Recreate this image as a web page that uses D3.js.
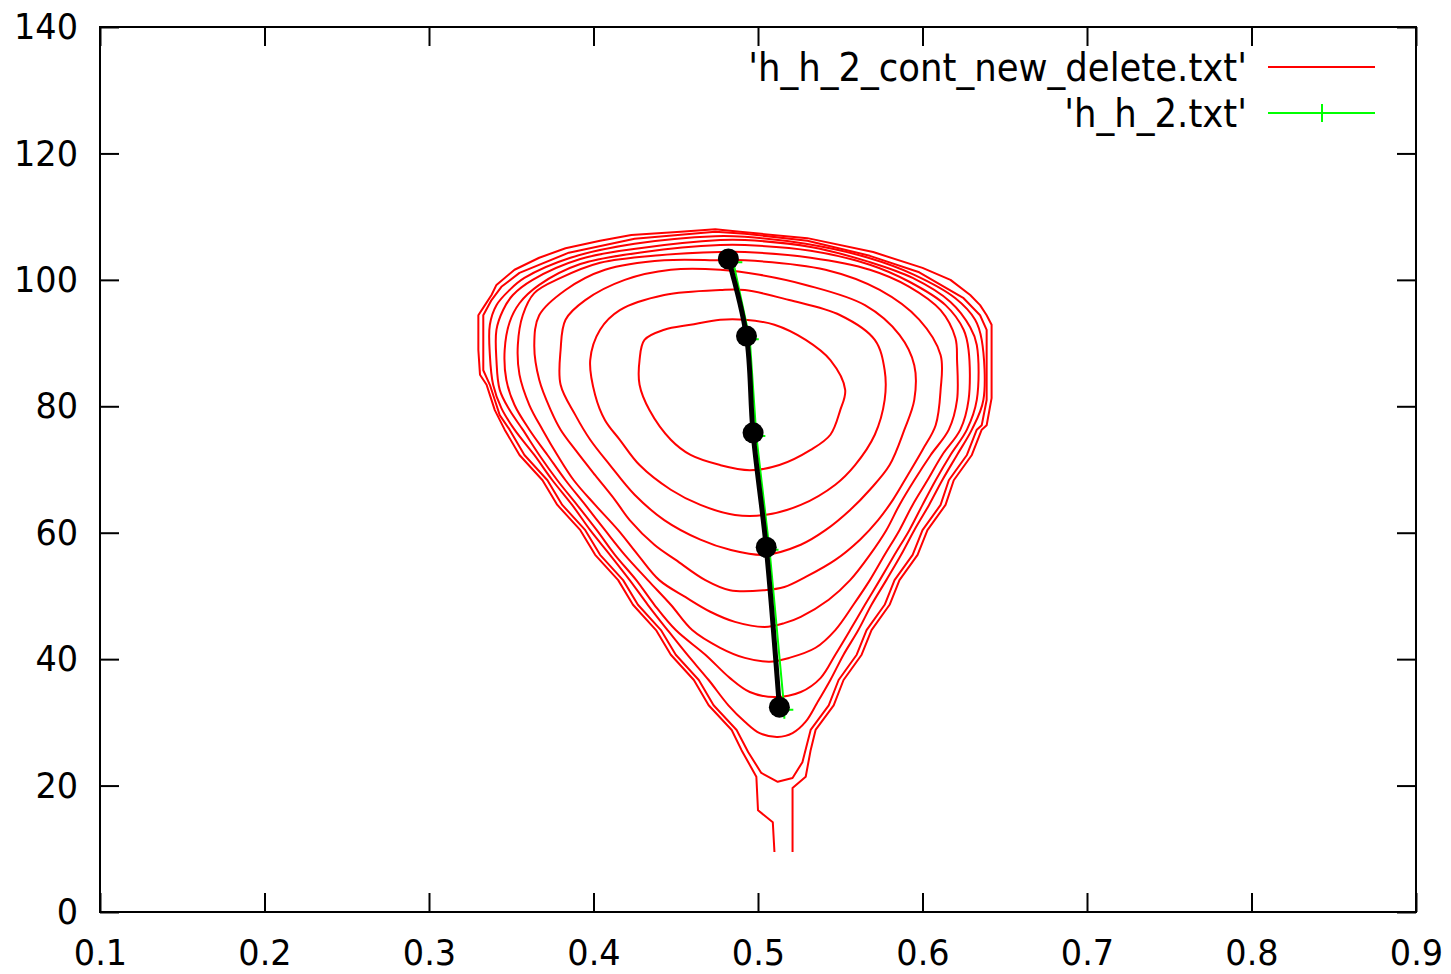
<!DOCTYPE html>
<html>
<head>
<meta charset="utf-8">
<script src="https://cdn.jsdelivr.net/npm/d3@7"></script>
<style>
body { margin: 0; background: #fff; }
text { font-family: "DejaVu Sans", sans-serif; fill: #000; }
</style>
</head>
<body>
<div class="chart"></div>
<script>
// tick values
var xTicks = [0.1, 0.2, 0.3, 0.4, 0.5, 0.6, 0.7, 0.8, 0.9];
var yTicks = [0, 20, 40, 60, 80, 100, 120, 140];
var legendNames = ["'h_h_2_cont_new_delete.txt'", "'h_h_2.txt'"];

// contour lines, innermost first
var contour1 = [[0.495,69.9],[0.477,70.7],[0.459,72.3],[0.447,74.7],[0.434,79.4],[0.428,83.4],[0.428,87.3],[0.431,90.5],[0.443,92.1],[0.459,92.9],[0.477,93.7],[0.492,93.7],[0.510,92.9],[0.529,90.5],[0.544,87.3],[0.553,82.6],[0.550,79.4],[0.544,75.5],[0.532,73.1],[0.513,70.7]];
var contour2 = [[0.504,62.8],[0.486,62.8],[0.465,64.4],[0.447,66.8],[0.428,70.7],[0.416,74.7],[0.407,77.8],[0.401,81.8],[0.398,87.3],[0.404,92.1],[0.416,95.2],[0.443,97.6],[0.477,98.4],[0.492,98.4],[0.519,96.8],[0.550,94.4],[0.571,90.5],[0.577,85.7],[0.577,81.0],[0.571,75.5],[0.559,70.7],[0.547,67.6],[0.526,64.4]];
var contour3 = [[0.504,56.5],[0.483,57.3],[0.465,58.9],[0.443,62.0],[0.425,66.0],[0.410,70.7],[0.398,74.7],[0.389,78.6],[0.380,83.4],[0.380,88.9],[0.383,93.7],[0.395,96.8],[0.419,100.0],[0.447,101.6],[0.477,101.6],[0.501,100.8],[0.529,99.2],[0.565,96.0],[0.586,91.3],[0.595,86.5],[0.595,81.0],[0.589,76.3],[0.580,70.7],[0.568,66.8],[0.556,63.6],[0.541,60.4],[0.526,58.1]];
var contour4 = [[0.504,50.9],[0.483,50.9],[0.468,52.5],[0.450,55.7],[0.437,58.1],[0.422,62.0],[0.413,65.2],[0.401,69.1],[0.389,73.1],[0.380,76.3],[0.374,79.4],[0.367,84.2],[0.364,89.7],[0.367,94.4],[0.383,98.4],[0.407,101.6],[0.443,103.1],[0.477,103.1],[0.492,103.1],[0.541,101.6],[0.574,98.4],[0.598,93.7],[0.611,88.1],[0.611,82.6],[0.608,77.0],[0.600,73.1],[0.591,69.1],[0.582,65.2],[0.573,62.0],[0.562,58.9],[0.547,55.7],[0.529,53.0],[0.516,51.4]];
var contour5 = [[0.504,45.1],[0.486,45.9],[0.471,47.5],[0.456,49.8],[0.440,52.5],[0.427,56.5],[0.415,60.4],[0.401,64.4],[0.388,68.3],[0.378,72.3],[0.369,76.3],[0.361,80.2],[0.355,85.0],[0.354,89.7],[0.357,94.4],[0.364,97.9],[0.380,100.3],[0.404,102.7],[0.440,103.9],[0.477,104.4],[0.492,104.4],[0.532,103.5],[0.568,101.6],[0.592,98.9],[0.611,95.2],[0.620,90.8],[0.621,87.3],[0.621,81.0],[0.616,76.3],[0.605,72.3],[0.595,68.3],[0.586,64.4],[0.578,60.4],[0.568,56.5],[0.556,52.5],[0.543,49.4],[0.526,46.7],[0.516,45.7]];
var contour6 = [[0.507,39.6],[0.492,40.2],[0.477,41.8],[0.460,44.6],[0.447,48.6],[0.433,52.5],[0.419,56.5],[0.407,60.4],[0.395,64.4],[0.383,68.3],[0.372,72.3],[0.361,76.3],[0.352,80.2],[0.347,84.2],[0.346,88.9],[0.349,93.3],[0.355,96.3],[0.367,99.2],[0.392,102.5],[0.431,104.4],[0.477,105.5],[0.492,105.5],[0.532,104.6],[0.568,102.4],[0.592,99.7],[0.614,96.0],[0.625,92.1],[0.628,88.9],[0.628,81.0],[0.623,76.3],[0.612,72.3],[0.603,68.3],[0.594,64.4],[0.586,60.4],[0.577,56.5],[0.568,52.5],[0.558,48.6],[0.547,44.6],[0.535,41.8],[0.519,40.2]];
var contour7 = [[0.510,34.0],[0.495,34.8],[0.483,37.0],[0.468,40.7],[0.450,44.6],[0.437,48.6],[0.426,52.5],[0.413,56.5],[0.402,60.4],[0.390,64.4],[0.378,68.3],[0.367,72.3],[0.357,76.3],[0.349,79.4],[0.343,82.6],[0.341,87.3],[0.341,92.1],[0.345,95.2],[0.351,97.6],[0.363,100.0],[0.392,103.3],[0.428,105.0],[0.477,106.3],[0.492,106.3],[0.532,105.2],[0.568,102.8],[0.594,100.3],[0.617,96.5],[0.629,92.5],[0.633,89.7],[0.633,81.0],[0.627,76.3],[0.617,72.3],[0.608,68.3],[0.600,64.4],[0.592,60.4],[0.583,56.5],[0.574,52.5],[0.565,48.6],[0.556,44.6],[0.547,40.7],[0.538,37.0],[0.526,34.8]];
var contour8 = [[0.512,27.7],[0.501,28.3],[0.492,30.1],[0.482,32.7],[0.470,36.7],[0.457,40.7],[0.445,44.6],[0.433,48.6],[0.422,52.5],[0.410,56.5],[0.398,60.4],[0.387,64.4],[0.375,68.3],[0.364,72.3],[0.352,76.3],[0.344,79.7],[0.339,83.4],[0.337,88.1],[0.337,92.9],[0.341,96.0],[0.349,98.4],[0.358,100.3],[0.386,103.5],[0.425,105.7],[0.474,106.9],[0.492,106.8],[0.529,105.7],[0.567,103.5],[0.595,100.8],[0.620,97.1],[0.632,93.7],[0.636,90.5],[0.637,81.0],[0.630,76.3],[0.621,72.3],[0.612,68.3],[0.604,64.4],[0.595,60.4],[0.587,56.5],[0.578,52.5],[0.569,48.6],[0.561,44.6],[0.552,40.7],[0.544,36.7],[0.536,33.1],[0.529,30.1],[0.521,28.3]];
var contour9 = [[0.512,20.6],[0.502,22.0],[0.494,25.3],[0.487,28.8],[0.473,32.7],[0.464,36.7],[0.450,40.7],[0.441,44.6],[0.427,48.6],[0.418,52.5],[0.404,56.5],[0.395,60.4],[0.381,64.4],[0.372,68.3],[0.358,72.3],[0.349,76.3],[0.343,78.6],[0.340,81.0],[0.337,83.4],[0.333,85.7],[0.333,88.9],[0.333,94.4],[0.338,96.8],[0.344,98.9],[0.355,101.1],[0.385,104.3],[0.425,106.5],[0.474,107.6],[0.492,107.3],[0.530,106.2],[0.568,103.8],[0.598,101.2],[0.625,97.1],[0.635,94.4],[0.639,92.1],[0.639,87.3],[0.639,81.0],[0.636,77.0],[0.633,76.3],[0.627,72.3],[0.616,68.3],[0.611,64.4],[0.600,60.4],[0.594,56.5],[0.583,52.5],[0.577,48.6],[0.566,44.6],[0.560,40.7],[0.549,36.7],[0.543,32.7],[0.532,28.8],[0.527,23.7],[0.521,21.2]];
// outermost level is open, it runs off the bottom of the data
var contour10 = [[0.510,9.5],[0.509,14.2],[0.500,16.1],[0.499,21.4],[0.490,25.6],[0.484,28.8],[0.470,32.7],[0.461,36.7],[0.447,40.7],[0.438,44.6],[0.424,48.6],[0.415,52.5],[0.401,56.5],[0.392,60.4],[0.378,64.4],[0.369,68.3],[0.355,72.3],[0.346,76.3],[0.340,79.4],[0.337,81.8],[0.335,83.4],[0.331,85.0],[0.330,88.9],[0.330,94.4],[0.334,96.0],[0.338,97.6],[0.341,99.2],[0.352,101.6],[0.367,103.5],[0.383,105.0],[0.404,106.2],[0.423,107.1],[0.453,107.6],[0.474,108.0],[0.489,107.6],[0.530,106.6],[0.570,104.4],[0.600,101.9],[0.617,100.0],[0.629,97.6],[0.635,96.0],[0.639,94.4],[0.642,92.9],[0.642,87.3],[0.642,81.3],[0.639,77.0],[0.636,76.3],[0.630,72.3],[0.619,68.3],[0.614,64.4],[0.603,60.4],[0.597,56.5],[0.586,52.5],[0.580,48.6],[0.569,44.6],[0.563,40.7],[0.552,36.7],[0.546,32.7],[0.535,28.8],[0.532,25.6],[0.529,21.4],[0.521,19.6],[0.521,9.5]];

var smoothContours = [contour1, contour2, contour3, contour4, contour5, contour6, contour7, contour8];

// 'h_h_2.txt' (green) and the black fitted path
var greenX = [0.485, 0.495, 0.499, 0.507, 0.516];
var greenY = [102.8, 90.6, 75.3, 57.3, 32.0];
var pathX = [0.482, 0.493, 0.497, 0.505, 0.513];
var pathY = [103.3, 91.1, 75.8, 57.7, 32.4];

var svgWidth = 1451;
var svgHeight = 974;
var margin = {top: 27, right: 35, bottom: 62, left: 100};
var chartWidth = svgWidth - margin.left - margin.right;
var chartHeight = svgHeight - margin.top - margin.bottom;

// text in the reference is a little taller than wide
var textStretch = 1.08;

var svg = d3.select(".chart")
  .append("svg")
  .attr("width", svgWidth)
  .attr("height", svgHeight);

var chart = svg.append("g")
  .attr("transform", `translate(${margin.left},${margin.top})`);

var xScale = d3.scaleLinear().domain([0.1, 0.9]).range([0, chartWidth]);
var yScale = d3.scaleLinear().domain([0, 140]).range([chartHeight, 0]);

// axes, ticks point inwards on all four sides
var tickLen = 19;
var bottomAxis = d3.axisBottom(xScale).tickValues(xTicks).tickSize(-tickLen).tickPadding(27).tickFormat(d3.format(".1f"));
var leftAxis = d3.axisLeft(yScale).tickValues(yTicks).tickSize(-tickLen).tickPadding(22).tickFormat(d3.format("d"));
var topAxis = d3.axisTop(xScale).tickValues(xTicks).tickSize(-tickLen).tickFormat("");
var rightAxis = d3.axisRight(yScale).tickValues(yTicks).tickSize(-tickLen).tickFormat("");

function styleAxis(g) {
  g.select(".domain").remove();
  g.selectAll(".tick line").attr("stroke", "#000").attr("stroke-width", 2);
  g.selectAll(".tick text")
    .style("font-size", "33.5px")
    .attr("fill", "#000")
    .each(function() {
      var t = d3.select(this);
      var tx = +t.attr("x") || 0;
      var ty = +t.attr("y") || 0;
      t.attr("x", 0).attr("y", 0)
        .attr("transform", `translate(${tx},${ty}) scale(1,${textStretch})`);
    });
}

chart.append("g").attr("transform", `translate(0,${chartHeight})`).call(bottomAxis).call(styleAxis);
chart.append("g").call(leftAxis).call(styleAxis);
chart.append("g").call(topAxis).call(styleAxis);
chart.append("g").attr("transform", `translate(${chartWidth},0)`).call(rightAxis).call(styleAxis);

chart.append("rect")
  .attr("x", 0).attr("y", 0)
  .attr("width", chartWidth).attr("height", chartHeight)
  .attr("fill", "none")
  .attr("stroke", "#000")
  .attr("stroke-width", 2);

// contours
var smoothLine = d3.line()
  .x(function(d) { return xScale(d[0]); })
  .y(function(d) { return yScale(d[1]); })
  .curve(d3.curveCatmullRomClosed);

var jaggedClosed = d3.line()
  .x(function(d) { return xScale(d[0]); })
  .y(function(d) { return yScale(d[1]); })
  .curve(d3.curveLinearClosed);

var openLine = d3.line()
  .x(function(d) { return xScale(d[0]); })
  .y(function(d) { return yScale(d[1]); });

chart.selectAll(".contour")
  .data(smoothContours)
  .enter()
  .append("path")
  .attr("class", "contour")
  .attr("d", smoothLine)
  .attr("fill", "none")
  .attr("stroke", "#ff0000")
  .attr("stroke-width", 2);

chart.append("path")
  .attr("d", jaggedClosed(contour9))
  .attr("fill", "none")
  .attr("stroke", "#ff0000")
  .attr("stroke-width", 2)
  .attr("stroke-linejoin", "round");

chart.append("path")
  .attr("d", openLine(contour10))
  .attr("fill", "none")
  .attr("stroke", "#ff0000")
  .attr("stroke-width", 2)
  .attr("stroke-linejoin", "round");

// green series with + points
var greenData = greenX.map(function(x, i) { return [x, greenY[i]]; });
chart.append("path")
  .attr("d", openLine(greenData))
  .attr("fill", "none")
  .attr("stroke", "#00ff00")
  .attr("stroke-width", 2);

chart.selectAll(".plus")
  .data(greenData)
  .enter()
  .append("path")
  .attr("class", "plus")
  .attr("d", function(d) {
    var px = xScale(d[0]), py = yScale(d[1]);
    return `M${px - 9},${py}H${px + 9}M${px},${py - 9}V${py + 9}`;
  })
  .attr("stroke", "#00ff00")
  .attr("stroke-width", 2);

// black path and dots
var pathData = pathX.map(function(x, i) { return [x, pathY[i]]; });
chart.append("path")
  .attr("d", d3.line()
    .x(function(d) { return xScale(d[0]); })
    .y(function(d) { return yScale(d[1]); })
    .curve(d3.curveCatmullRom)(pathData))
  .attr("fill", "none")
  .attr("stroke", "#000")
  .attr("stroke-width", 5);

chart.selectAll(".dot")
  .data(pathData)
  .enter()
  .append("circle")
  .attr("class", "dot")
  .attr("cx", function(d) { return xScale(d[0]); })
  .attr("cy", function(d) { return yScale(d[1]); })
  .attr("r", 10.5)
  .attr("fill", "#000");

// legend
var legendX = 1147;
var legendRows = [40, 86];
var legendColors = ["#ff0000", "#00ff00"];

legendNames.forEach(function(name, i) {
  var y = legendRows[i];
  chart.append("text")
    .attr("transform", `translate(${legendX},${y}) scale(1,${textStretch})`)
    .attr("dy", "0.36em")
    .attr("text-anchor", "end")
    .style("font-size", "35.5px")
    .text(name);
  chart.append("line")
    .attr("x1", 1168).attr("x2", 1275)
    .attr("y1", y).attr("y2", y)
    .attr("stroke", legendColors[i])
    .attr("stroke-width", 2);
  if (i === 1) {
    chart.append("line")
      .attr("x1", 1222).attr("x2", 1222)
      .attr("y1", y - 9).attr("y2", y + 9)
      .attr("stroke", legendColors[i])
      .attr("stroke-width", 2);
  }
});
</script>
</body>
</html>
